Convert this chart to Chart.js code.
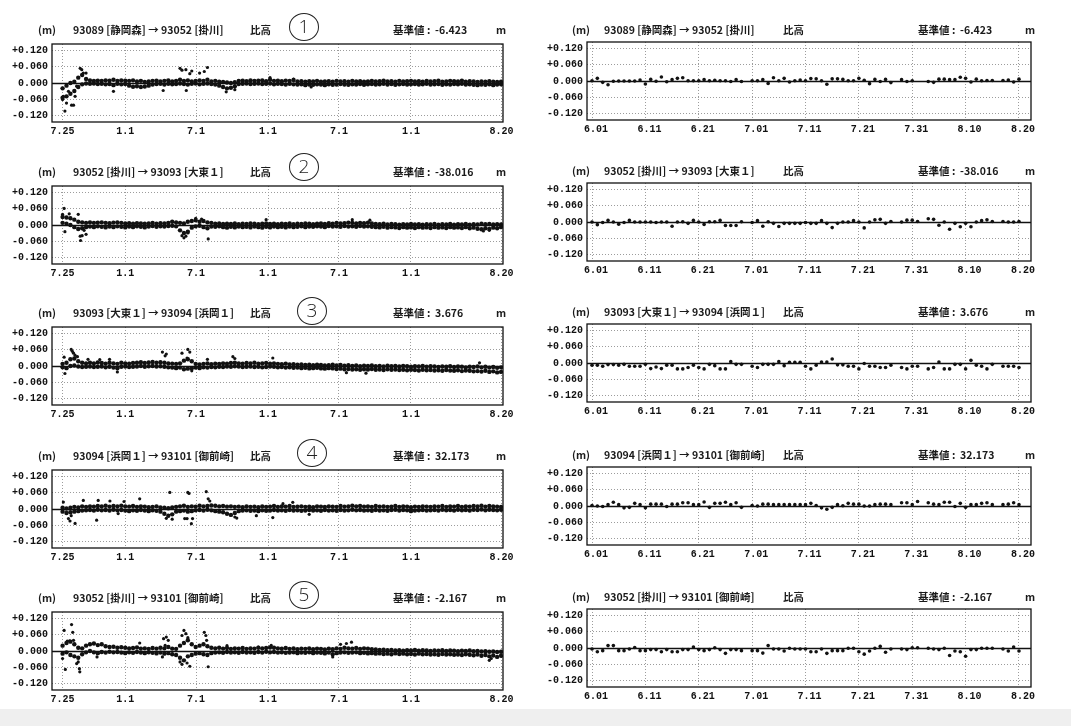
<!DOCTYPE html>
<html lang="ja">
<head>
<meta charset="utf-8">
<title>比高 時系列</title>
<script src="https://cdn.jsdelivr.net/npm/chart.js@4.4.1/dist/chart.umd.min.js"></script>
<style>
  html, body { margin: 0; padding: 0; background: #fff; width: 1071px; height: 726px; overflow: hidden; }
  canvas { position: absolute; }
  .hd { position: absolute; font: bold 10.5px "Noto Sans CJK JP", sans-serif; color: #1a1a1a; line-height: 14px; white-space: pre; }
  .circ { position: absolute; width: 30px; height: 28px; box-sizing: border-box; border: 1.4px solid #222; border-radius: 50%;
          font: 300 19px "Open Sans", sans-serif; line-height: 25px; text-align: center; color: #222; }
  #band { position: absolute; left: 0; top: 709px; width: 1071px; height: 17px; background: #efefef; }
</style>
</head>
<body>
<div id="band"></div>
<script>
// --- labels -------------------------------------------------------------
const routes = [
  "93089 [静岡森] → 93052 [掛川]",
  "93052 [掛川] → 93093 [大東１]",
  "93093 [大東１] → 93094 [浜岡１]",
  "93094 [浜岡１] → 93101 [御前崎]",
  "93052 [掛川] → 93101 [御前崎]"
];
const baseValues = ["-6.423", "-38.016", "3.676", "32.173", "-2.167"];
const circleMarks = ["1", "2", "3", "4", "5"];

const yTicksMm = [-120, -60, 0, 60, 120];
// left: days since 7.25 ; right: days since 6.01
const leftTickDays = [0, 160, 341, 525, 706, 890, 1121];
const leftTickLabels = ["7.25", "1.1", "7.1", "1.1", "7.1", "1.1", "8.20"];
const rightTickDays = [0, 10, 20, 30, 40, 50, 60, 70, 80];
const rightTickLabels = ["6.01", "6.11", "6.21", "7.01", "7.11", "7.21", "7.31", "8.10", "8.20"];

// long-term series, read every 10 days (upper / lower edge of the cloud), mm
const leftSampleDays = Array.from({ length: 113 }, (_, i) => i * 10);

const l1Hi = [-20,-10,0,5,20,30,15,10,8,9, 8,10,9,12,8,10,9,8,10,6, 8,4,6,8,9,6,8,10,6,8, 12,8,10,6,8,10,8,12,6,8, 5,4,2,0,3,8,9,7,10,8, 9,10,7,12,8,9,7,9,8,11, 6,7,5,7,6,8,5,6,7,5, 8,6,7,5,8,6,7,5,6,8, 6,7,9,6,7,5,8,6,7,8, 6,7,5,8,6,7,9,5,6,8, 7,6,9,5,7,6,4,6,5,7, 5,4,5];
const l1Lo = [-55,-50,-40,-30,-15,-5,-2,-3,-2,-4, -3,-5,-4,-8,-3,-5,-4,-10,-14,-12, -15,-13,-10,-6,-4,-3,-6,-3,-5,-4, -2,-4,-6,-3,-2,-5,-3,-2,-4,-6, -10,-15,-20,-18,-12,-4,-3,-2,-4,-3, -2,-4,-3,-2,-5,-3,-4,-6,-3,-5, -6,-5,-8,-6,-7,-5,-6,-8,-5,-7, -6,-4,-6,-7,-5,-6,-4,-7,-5,-4, -6,-5,-3,-6,-4,-7,-5,-4,-6,-5, -4,-6,-5,-3,-6,-5,-4,-7,-5,-6, -4,-5,-3,-6,-5,-7,-8,-6,-7,-5, -8,-6,-5];
const l1Out = [[0,-62],[2,-50],[6,-105],[10,-75],[15,-31],[23,-83],[28,-83],[32,-50],[36,-12],[45,55],[49,50],[53,37],[60,37],[130,-31],[257,-28],[300,55],[305,48],[315,50],[316,-28],[325,35],[330,45],[350,37],[362,43],[370,58],[418,-33],[440,-25],[530,20],[590,15],[635,-15]];

const l2Hi = [30,28,25,20,12,10,8,10,8,9, 10,8,7,9,10,8,6,7,5,7, 6,5,6,8,5,7,6,8,12,10, 8,6,12,15,18,12,15,10,8,5, 6,4,5,4,6,3,5,4,6,5, 3,5,6,4,5,3,5,4,6,3, 5,4,6,5,3,5,6,4,7,5, 8,6,7,9,8,6,8,7,9,6, 4,3,5,2,4,3,1,3,2,4, 2,3,1,3,2,4,1,3,2,4, 1,3,2,4,1,3,2,5,3,4, 2,3,2];
const l2Lo = [8,5,0,-8,-15,-12,-8,-6,-8,-5, -7,-9,-6,-8,-5,-7,-9,-6,-8,-5, -7,-9,-6,-4,-7,-5,-6,-4,-3,-5, -20,-30,-25,-10,-5,-3,-8,-12,-6,-7, -5,-8,-10,-7,-9,-6,-8,-7,-9,-6, -8,-10,-7,-9,-6,-8,-7,-9,-6,-8, -7,-5,-8,-6,-7,-5,-6,-8,-4,-6, -5,-7,-4,-6,-5,-7,-4,-6,-5,-7, -8,-9,-7,-10,-8,-9,-11,-8,-10,-9, -11,-8,-10,-9,-11,-8,-10,-9,-11,-8, -10,-9,-11,-8,-12,-10,-14,-16,-12,-15, -10,-12,-8];
const l2Out = [[4,62],[0,40],[17,42],[40,40],[6,-25],[45,-42],[46,-58],[50,-40],[55,-20],[60,-35],[305,-40],[310,-48],[315,-42],[320,-30],[372,-52],[340,25],[355,22],[520,20],[740,20],[785,18],[1075,-22],[1090,-20]];

const l3Hi = [8,12,25,28,18,12,10,12,10,13, 11,9,12,10,8,12,10,9,11,12, 14,11,13,15,12,14,12,10,9,8, 10,20,25,18,8,6,8,10,7,9, 8,10,9,11,12,10,9,11,10,12, 9,10,11,9,10,8,7,9,6,7, 5,6,4,5,3,5,4,2,3,5, 2,4,1,3,0,2,-1,1,0,2, -1,0,-2,1,-1,0,-2,0,-1,-3, -1,-2,0,-3,-1,-2,-4,-2,-3,-1, -4,-2,-3,-5,-3,-4,-2,-5,-3,-6, -4,-7,-5];
const l3Lo = [-5,-8,0,2,-2,-4,-3,-2,-4,-3, -2,-5,-3,-6,-8,-3,-2,-4,-3,-2, 0,-3,-1,0,-2,-1,-3,-5,-6,-8, -6,-12,-10,-8,-6,-8,-5,-6,-4,-5, -3,-4,-2,-3,-1,-2,-4,-3,-2,-4, -3,-5,-4,-2,-3,-5,-4,-6,-5,-7, -6,-8,-7,-9,-8,-7,-9,-10,-8,-9, -11,-10,-12,-11,-13,-12,-14,-12,-13,-11, -14,-13,-15,-12,-14,-13,-15,-14,-16,-14, -15,-17,-14,-16,-15,-17,-16,-18,-15,-17, -18,-16,-19,-17,-18,-20,-19,-21,-18,-22, -20,-24,-22];
const l3Out = [[4,33],[6,-28],[22,62],[25,55],[28,48],[32,40],[38,35],[65,25],[95,24],[120,25],[140,-22],[255,52],[262,38],[265,45],[305,48],[320,62],[325,52],[318,30],[330,-18],[370,25],[435,35],[440,28],[537,30],[725,-25],[775,-27],[1065,12]];

const l4Hi = [5,2,5,8,6,10,8,10,9,11, 10,12,9,11,10,12,10,9,11,8, 10,9,7,8,10,6,5,3,6,8, 10,12,8,10,9,12,10,11,13,12, 10,11,9,10,8,9,7,10,8,9, 7,10,8,9,11,8,10,9,11,8, 9,10,8,9,7,10,9,8,10,9, 8,11,9,10,12,10,11,9,10,8, 11,9,10,8,9,11,8,10,9,7, 9,8,10,9,8,10,9,11,8,10, 9,11,8,10,9,11,10,12,9,11, 10,9,8];
const l4Lo = [-10,-15,-12,-10,-8,-6,-5,-4,-6,-3, -5,-4,-6,-3,-5,-4,-6,-8,-5,-7, -4,-6,-8,-5,-7,-10,-18,-25,-20,-10, -8,-6,-10,-8,-5,-4,-6,-3,-5,-8, -10,-12,-18,-22,-15,-8,-6,-5,-7,-6, -8,-5,-7,-6,-4,-6,-5,-7,-4,-6, -5,-7,-6,-4,-6,-5,-7,-4,-6,-5, -7,-4,-6,-5,-3,-5,-4,-6,-5,-7, -4,-6,-5,-7,-4,-3,-6,-4,-5,-8, -6,-5,-4,-6,-5,-4,-6,-3,-5,-4, -6,-3,-5,-4,-6,-3,-4,-2,-5,-3, -4,-5,-3];
const l4Out = [[2,26],[15,-36],[19,-45],[22,-25],[32,-54],[53,32],[87,-42],[91,32],[121,30],[142,-17],[157,28],[197,38],[274,62],[265,-35],[280,-38],[312,-36],[320,62],[323,58],[318,-36],[329,-55],[332,-36],[367,65],[372,38],[376,30],[440,-30],[445,-34],[495,-25],[537,-32],[563,20],[588,25],[630,-20]];

const l5Hi = [20,30,35,25,12,10,20,25,28,22, 25,18,15,16,12,14,12,10,11,13, 9,10,8,11,9,12,10,15,9,8, 20,30,40,25,15,20,25,18,12,10, 12,9,11,8,10,9,11,8,10,9, 12,10,11,13,12,10,9,11,8,10, 7,9,8,10,7,9,8,6,9,7, 10,8,12,10,9,11,8,10,9,7, 6,4,5,3,4,2,3,1,3,2, 4,1,3,2,0,2,1,3,0,2, 1,-1,1,0,2,-1,0,-2,-1,-3, -2,-4,-3];
const l5Lo = [-10,-5,-15,-20,-25,-12,-5,0,-5,-8, -4,-6,-3,-5,-4,-6,-8,-5,-7,-4, -6,-8,-5,-7,-9,-6,-10,-8,-12,-15, -25,-35,-20,-15,-10,-8,-12,-15,-8,-6, -5,-7,-4,-6,-5,-7,-4,-6,-5,-7, -4,-6,-3,-5,-4,-6,-5,-7,-6,-5, -8,-6,-7,-5,-8,-6,-7,-9,-6,-12, -8,-6,-5,-7,-6,-5,-8,-7,-9,-8, -10,-9,-11,-10,-12,-9,-11,-10,-12,-11, -13,-10,-12,-11,-13,-12,-14,-11,-13,-12, -14,-13,-15,-12,-14,-16,-13,-18,-15,-20, -17,-22,-18];
const l5Out = [[4,77],[23,99],[26,70],[0,-28],[7,-69],[40,-41],[43,-66],[44,-78],[36,-47],[12,37],[18,38],[28,40],[88,-22],[197,30],[258,46],[265,52],[270,40],[262,21],[255,-22],[305,58],[310,77],[315,65],[320,50],[300,-41],[305,-50],[325,-57],[318,-45],[362,70],[366,58],[368,40],[372,-59],[420,20],[500,15],[533,21],[690,-22],[710,25],[725,28],[738,33],[1090,-35],[1095,-28]];

// daily values 6.01 - 8.20, mm (null = no solution)
const r1 = [1,10,-5,-14,-1,0,0,0,0,4, -11,6,-1,15,-3,5,10,12,1,1, 1,5,1,3,1,1,-2,5,-2,null, 1,1,5,-9,12,1,10,-4,1,4, 1,9,8,1,-12,8,8,6,1,1, 10,3,-10,6,-2,6,-6,null,5,-2, 1,null,null,-2,-5,7,7,5,5,14, 10,-4,7,1,2,2,null,2,4,-4, 7];
const r2 = [0,-10,-2,6,0,-8,-2,6,0,0, 0,0,-2,0,0,-16,0,1,-5,6, 0,-9,1,1,6,-13,-13,-13,1,null, -2,5,-16,1,-5,-17,-5,-5,-5,-5, -2,-5,-5,5,-5,-21,-5,0,0,5, 0,-22,0,8,10,-5,2,null,0,7, 7,2,null,12,10,-12,0,-27,-5,-18, -5,-18,0,5,8,2,null,2,0,0, 2];
const r3 = [-8,-8,-12,-6,-6,-8,-5,-12,-12,-12, -5,-21,-15,-21,-8,-8,-22,-22,-17,-8, -17,-22,-5,-10,-22,-22,5,-5,-5,null, -12,-17,-5,-5,-5,5,-10,3,3,3, -12,-22,-8,4,4,15,-7,-7,-12,-12, -22,-2,-12,-12,-17,-17,-8,null,-17,-22, -12,-12,null,-22,-17,4,-22,-22,-5,-5, -22,10,-8,-12,-22,-5,null,-12,-12,-12, -17];
const r4 = [2,0,-2,5,14,5,-7,-5,10,5, -7,7,7,7,-2,7,7,12,12,5, 5,15,-5,10,10,14,5,12,-5,null, 2,0,7,7,5,5,5,5,5,5, 5,10,2,-7,-12,-5,5,1,10,7, 7,0,0,5,7,7,5,null,12,12, 5,17,null,12,7,5,14,14,-2,10, -5,5,5,10,12,5,null,5,7,12, 5];
const r5 = [-4,-14,-10,9,9,-10,-10,-4,2,-10, -10,-6,-6,-14,-6,-14,-14,-6,-6,4, -6,-10,-6,1,-6,-20,-6,-6,-10,null, -10,-10,-19,9,-4,-4,-11,-1,-4,-4, -4,-14,-14,-4,-20,-10,-10,-10,-1,-1, -14,-23,-11,-1,6,-16,-4,null,-4,-6, 1,1,null,-1,-4,-6,-1,-28,-11,-14, -31,-6,-6,-1,-1,-1,null,-4,-11,4, -11];

const leftHi = [l1Hi, l2Hi, l3Hi, l4Hi, l5Hi];
const leftLo = [l1Lo, l2Lo, l3Lo, l4Lo, l5Lo];
const leftOut = [l1Out, l2Out, l3Out, l4Out, l5Out];
const rightDaily = [r1, r2, r3, r4, r5];

// --- layout --------------------------------------------------------------
const leftBoxTop = [42, 184, 325, 468, 610];
const rightBoxTop = [40, 181, 322, 465, 607];
const circlePos = [[289, 13], [289, 153], [297, 297], [297, 439], [289, 581]];

const tickFont = { family: "'Liberation Mono', 'DejaVu Sans Mono', monospace", size: 10, weight: "bold" };
const fmtM = v => (v > 0 ? "+" : "") + (v / 1000).toFixed(3);

const frame = {
  id: "frame",
  beforeDatasetsDraw(chart) {
    const { ctx, chartArea: a, scales: { y } } = chart;
    const y0 = Math.round(y.getPixelForValue(0)) + 0.5;
    ctx.save();
    ctx.strokeStyle = "#111";
    ctx.lineWidth = 1.3;
    ctx.beginPath();
    ctx.moveTo(a.left, y0);
    ctx.lineTo(a.right, y0);
    ctx.stroke();
    ctx.restore();
  },
  afterDraw(chart) {
    const { ctx, chartArea: a } = chart;
    ctx.save();
    ctx.strokeStyle = "#111";
    ctx.lineWidth = 1.3;
    ctx.strokeRect(a.left, a.top, a.right - a.left, a.bottom - a.top);
    ctx.restore();
  }
};

function header(x, top, text) {
  const d = document.createElement("div");
  d.className = "hd";
  d.style.left = x + "px";
  d.style.top = top + "px";
  d.textContent = text;
  document.body.appendChild(d);
}

function titleRow(xs, top, i) {
  header(xs[0], top, "(m)");
  header(xs[1], top, routes[i]);
  header(xs[2], top, "比高");
  header(xs[3], top, "基準値 :  " + baseValues[i]);
  header(xs[4], top, "m");
}

function panel(p) {
  const cv = document.createElement("canvas");
  cv.width = p.width;
  cv.height = 108;
  cv.style.left = p.left + "px";
  cv.style.top = (p.boxTop - 8) + "px";
  document.body.appendChild(cv);
  const gridStyle = { color: "#9c9c9c", lineWidth: 1, drawTicks: false };
  new Chart(cv, {
    type: "scatter",
    data: { datasets: p.datasets },
    options: {
      responsive: false,
      animation: false,
      devicePixelRatio: 1,
      layout: { padding: { left: 0, top: 8, right: p.padRight, bottom: 0 } },
      plugins: { legend: { display: false }, tooltip: { enabled: false } },
      scales: {
        x: {
          type: "linear", min: p.xMin, max: p.xMax,
          afterBuildTicks: s => { s.ticks = p.tickDays.map(v => ({ value: v })); },
          afterFit: s => { s.height = 20; },
          ticks: { callback: (v, i) => p.tickLabels[i], font: tickFont, color: "#111",
                   padding: 3, maxRotation: 0, autoSkip: false, labelOffset: p.labelOffset },
          grid: gridStyle,
          border: { display: false, dash: [1, 2] }
        },
        y: {
          min: -146, max: 146,
          afterBuildTicks: s => { s.ticks = yTicksMm.map(v => ({ value: v })); },
          afterFit: s => { s.width = p.axisW; },
          ticks: { callback: v => fmtM(v), font: tickFont, color: "#111", padding: 4, autoSkip: false },
          grid: gridStyle,
          border: { display: false, dash: [1, 2] }
        }
      }
    },
    plugins: [frame]
  });
}

const dot = r => ({ pointRadius: r, pointHoverRadius: r, backgroundColor: "#111", borderWidth: 0 });

for (let i = 0; i < 5; i++) {
  // left: long-term record
  const hi = leftHi[i].map((v, k) => ({ x: leftSampleDays[k], y: v }));
  const lo = leftLo[i].map((v, k) => ({ x: leftSampleDays[k], y: v }));
  const out = leftOut[i].map(([d, v]) => ({ x: d, y: v }));
  panel({
    left: 0, width: 530, boxTop: leftBoxTop[i], axisW: 52, padRight: 27,
    xMin: -27, xMax: 1125, tickDays: leftTickDays, tickLabels: leftTickLabels, labelOffset: 0,
    datasets: [
      { data: hi, ...dot(2.2) },
      { data: lo, ...dot(2.2) },
      { data: out, ...dot(1.6) }
    ]
  });
  titleRow([38, 73, 250, 393, 496], leftBoxTop[i] - 19, i);

  // right: daily values
  const daily = rightDaily[i].map((v, d) => (v === null ? null : { x: d, y: v })).filter(Boolean);
  panel({
    left: 530, width: 531, boxTop: rightBoxTop[i], axisW: 57, padRight: 30,
    xMin: -0.94, xMax: 82.25, tickDays: rightTickDays, tickLabels: rightTickLabels, labelOffset: 4,
    datasets: [{ data: daily, ...dot(1.8) }]
  });
  titleRow([572, 604, 783, 918, 1025], rightBoxTop[i] - 17, i);

  const c = document.createElement("div");
  c.className = "circ";
  c.style.left = circlePos[i][0] + "px";
  c.style.top = circlePos[i][1] + "px";
  c.textContent = circleMarks[i];
  document.body.appendChild(c);
}
</script>
</body>
</html>
